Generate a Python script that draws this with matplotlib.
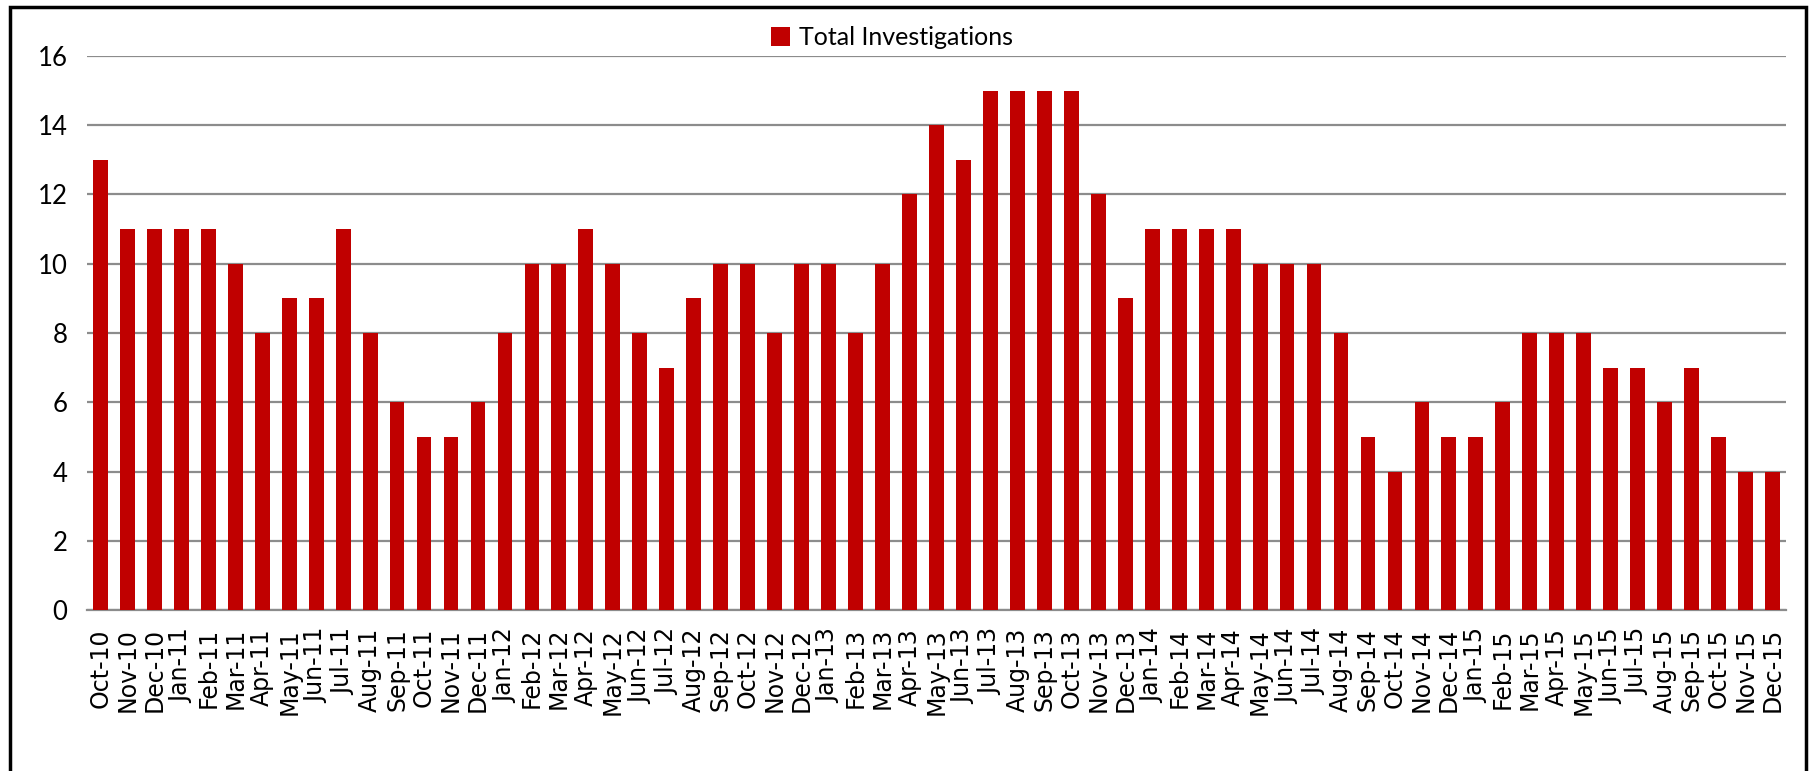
import matplotlib.pyplot as plt
from matplotlib.patches import Rectangle

# Monthly totals, Oct-10 to Dec-15
months = ['Oct-10', 'Nov-10', 'Dec-10',
          'Jan-11', 'Feb-11', 'Mar-11', 'Apr-11', 'May-11', 'Jun-11',
          'Jul-11', 'Aug-11', 'Sep-11', 'Oct-11', 'Nov-11', 'Dec-11',
          'Jan-12', 'Feb-12', 'Mar-12', 'Apr-12', 'May-12', 'Jun-12',
          'Jul-12', 'Aug-12', 'Sep-12', 'Oct-12', 'Nov-12', 'Dec-12',
          'Jan-13', 'Feb-13', 'Mar-13', 'Apr-13', 'May-13', 'Jun-13',
          'Jul-13', 'Aug-13', 'Sep-13', 'Oct-13', 'Nov-13', 'Dec-13',
          'Jan-14', 'Feb-14', 'Mar-14', 'Apr-14', 'May-14', 'Jun-14',
          'Jul-14', 'Aug-14', 'Sep-14', 'Oct-14', 'Nov-14', 'Dec-14',
          'Jan-15', 'Feb-15', 'Mar-15', 'Apr-15', 'May-15', 'Jun-15',
          'Jul-15', 'Aug-15', 'Sep-15', 'Oct-15', 'Nov-15', 'Dec-15']
investigations = [13, 11, 11,
                  11, 11, 10, 8, 9, 9, 11, 8, 6, 5, 5, 6,
                  8, 10, 10, 11, 10, 8, 7, 9, 10, 10, 8, 10,
                  10, 8, 10, 12, 14, 13, 15, 15, 15, 15, 12, 9,
                  11, 11, 11, 11, 10, 10, 10, 8, 5, 4, 6, 5,
                  5, 6, 8, 8, 8, 7, 7, 6, 7, 5, 4, 4]
y_ticks = [0, 2, 4, 6, 8, 10, 12, 14, 16]

fig = plt.figure(figsize=(18.11, 7.71), dpi=100)
ax = fig.add_axes([0.048, 0.2088, 0.9382, 0.7186])

x = range(len(months))
ax.bar(x, investigations, width=0.55, color='#C00000', label='Total Investigations', zorder=3)

ax.set_xlim(-0.5, len(months) - 0.5)
ax.set_ylim(0, 16)
ax.set_yticks(y_ticks)
ax.set_xticks(list(x))
ax.set_xticklabels(months, rotation=90, fontsize=17, family='DejaVu Sans')
ax.tick_params(axis='x', length=0, pad=13)
ax.tick_params(axis='y', length=0, pad=14, labelsize=18.5)
for lbl in ax.get_yticklabels():
    lbl.set_family('Lato')

ax.grid(axis='y', color='#8c8c8c', linewidth=1.6, zorder=0)
for s in ['top', 'right', 'left']:
    ax.spines[s].set_visible(False)
ax.spines['bottom'].set_color('#8c8c8c')
ax.spines['bottom'].set_linewidth(1.6)

ax.legend(loc='center', bbox_to_anchor=(0.4925, 0.951), bbox_transform=fig.transFigure,
          frameon=False, prop={'family': 'Lato', 'size': 18},
          handlelength=0.75, handleheight=0.75, handletextpad=0.35)

# outer chart border
fig.patches.append(Rectangle((10 / 1811, -0.1), 1796 / 1811, 1.1 - 7 / 771,
                             transform=fig.transFigure, fill=False,
                             edgecolor='black', linewidth=2.5, clip_on=False))

fig.savefig('out.png', dpi=100)
